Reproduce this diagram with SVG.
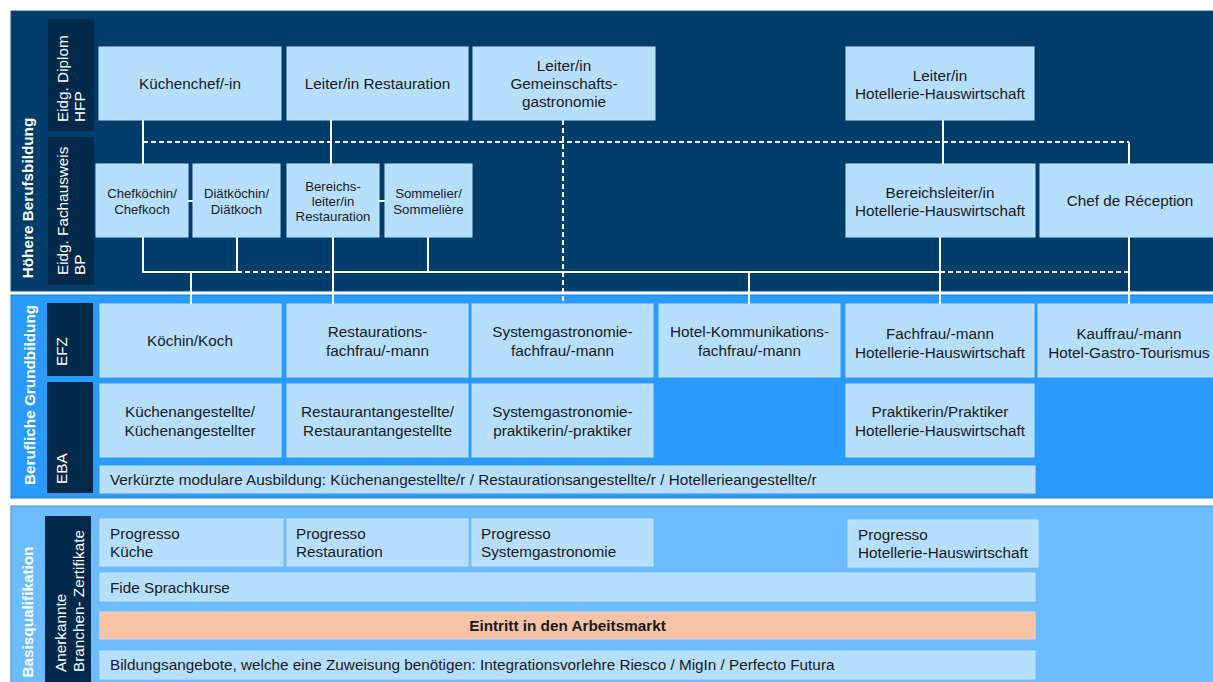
<svg xmlns="http://www.w3.org/2000/svg" width="1213" height="682" viewBox="0 0 1213 682">
<style>
text{font-family:"Liberation Sans",Arial,sans-serif;fill:#1a1a1a;font-size:15.3px}
.sm{font-size:13.2px}
.lbl{fill:#ffffff}
.sec{fill:#ffffff;font-weight:bold}
.box{fill:#b6dffe;stroke:#c4e5ff;stroke-width:1}
.tag{fill:#02284a}
.c{stroke:#ffffff;stroke-width:2;fill:none}
.d{stroke:#ffffff;stroke-width:2;fill:none;stroke-dasharray:5 3}
.m{text-anchor:middle}
</style>
<rect x="11" y="11" width="1210" height="280" fill="#003d6b" stroke="#17568c" stroke-width="1"/>
<rect x="11" y="295" width="1210" height="203" fill="#2a9bfd" stroke="#1c7fd2" stroke-width="1"/>
<rect x="11" y="506" width="1210" height="180" fill="#6cbdff" stroke="#3e8ccd" stroke-width="1"/>

<g id="section-labels">
<text class="sec m" transform="translate(33 198) rotate(-90)">Höhere Berufsbildung</text>
<text class="sec m" transform="translate(35 395) rotate(-90)">Berufliche Grundbildung</text>
<text class="sec m" transform="translate(33 612) rotate(-90)">Basisqualifikation</text>
</g>

<g id="tag-hfp"><rect class="tag" x="48" y="19" width="46" height="112"/>
<text class="lbl" transform="translate(68 122) rotate(-90)">Eidg. Diplom</text>
<text class="lbl" transform="translate(85 122) rotate(-90)">HFP</text></g>
<g id="tag-bp"><rect class="tag" x="48" y="137" width="46" height="148"/>
<text class="lbl" transform="translate(68 275) rotate(-90)">Eidg. Fachausweis</text>
<text class="lbl" transform="translate(85 275) rotate(-90)">BP</text></g>
<g id="tag-efz"><rect class="tag" x="47" y="303" width="46" height="73"/>
<text class="lbl" transform="translate(67 366) rotate(-90)">EFZ</text></g>
<g id="tag-eba"><rect class="tag" x="47" y="382" width="46" height="111"/>
<text class="lbl" transform="translate(67 484) rotate(-90)">EBA</text></g>
<g id="tag-zert"><rect class="tag" x="45" y="516" width="46" height="170"/>
<text class="lbl" transform="translate(66 672) rotate(-90)">Anerkannte</text>
<text class="lbl" transform="translate(84 672) rotate(-90)">Branchen- Zertifikate</text></g>

<g id="connectors">
<path class="c" d="M143 120V164M331 120V164M943 120V164M1129 142V164"/>
<path class="d" d="M143 142H1129M563 120V304M237 272H333M940 272H1129"/>
<path class="c" d="M143 237V272H237V237M191 272V304M333 237V304M333 272H940M428 237V272M940 237V304M1129 237V304M749 272V304M188 201H193M379 201H385"/>
</g>

<g id="kuechenchef"><rect class="box" x="99" y="47" width="182" height="73"/><text class="m" x="190" y="89">Küchenchef/-in</text></g>
<g id="leiter-restauration"><rect class="box" x="287" y="47" width="181" height="73"/><text class="m" x="377.5" y="89">Leiter/in Restauration</text></g>
<g id="leiter-gemeinschaft"><rect class="box" x="473" y="47" width="182" height="73"/><text class="m" x="564" y="71">Leiter/in</text><text class="m" x="564" y="89">Gemeinschafts-</text><text class="m" x="564" y="107">gastronomie</text></g>
<g id="leiter-hotellerie"><rect class="box" x="846" y="47" width="188" height="73"/><text class="m" x="940" y="81">Leiter/in</text><text class="m" x="940" y="99">Hotellerie-Hauswirtschaft</text></g>

<g id="chefkoechin"><rect class="box" x="96" y="164" width="92" height="73"/><text class="sm m" x="142" y="197.5">Chefköchin/</text><text class="sm m" x="142" y="213.5">Chefkoch</text></g>
<g id="diaetkoechin"><rect class="box" x="193" y="164" width="87" height="73"/><text class="sm m" x="236.5" y="197.5">Diätköchin/</text><text class="sm m" x="236.5" y="213.5">Diätkoch</text></g>
<g id="bereichsleiter-restauration"><rect class="box" x="287" y="164" width="92" height="73"/><text class="sm m" x="333" y="190.5">Bereichs-</text><text class="sm m" x="333" y="205.5">leiter/in</text><text class="sm m" x="333" y="221">Restauration</text></g>
<g id="sommelier"><rect class="box" x="385" y="164" width="87" height="73"/><text class="sm m" x="428.5" y="197.5">Sommelier/</text><text class="sm m" x="428.5" y="213.5">Sommelière</text></g>
<g id="bereichsleiter-hotellerie"><rect class="box" x="846" y="164" width="189" height="73"/><text class="m" x="940" y="197.5">Bereichsleiter/in</text><text class="m" x="940" y="215.5">Hotellerie-Hauswirtschaft</text></g>
<g id="chef-reception"><rect class="box" x="1040" y="164" width="180" height="73"/><text class="m" x="1130" y="206">Chef de Réception</text></g>

<g id="koch"><rect class="box" x="100" y="304" width="181" height="73"/><text class="m" x="190" y="346">Köchin/Koch</text></g>
<g id="restaurationsfachfrau"><rect class="box" x="287" y="304" width="181" height="73"/><text class="m" x="377.5" y="337">Restaurations-</text><text class="m" x="377.5" y="356">fachfrau/-mann</text></g>
<g id="systemgastronomiefachfrau"><rect class="box" x="472" y="304" width="181" height="73"/><text class="m" x="562.5" y="337">Systemgastronomie-</text><text class="m" x="562.5" y="356">fachfrau/-mann</text></g>
<g id="hotelkommunikation"><rect class="box" x="659" y="304" width="181" height="73"/><text class="m" x="749.5" y="337">Hotel-Kommunikations-</text><text class="m" x="749.5" y="356">fachfrau/-mann</text></g>
<g id="fachfrau-hotellerie"><rect class="box" x="846" y="304" width="188" height="73"/><text class="m" x="940" y="338.5">Fachfrau/-mann</text><text class="m" x="940" y="357.5">Hotellerie-Hauswirtschaft</text></g>
<g id="kauffrau"><rect class="box" x="1038" y="304" width="182" height="73"/><text class="m" x="1129" y="338.5">Kauffrau/-mann</text><text class="m" x="1129" y="357.5">Hotel-Gastro-Tourismus</text></g>

<g id="kuechenangestellte"><rect class="box" x="100" y="384" width="181" height="73"/><text class="m" x="190" y="417">Küchenangestellte/</text><text class="m" x="190" y="435.5">Küchenangestellter</text></g>
<g id="restaurantangestellte"><rect class="box" x="287" y="384" width="181" height="73"/><text class="m" x="377.5" y="417">Restaurantangestellte/</text><text class="m" x="377.5" y="435.5">Restaurantangestellte</text></g>
<g id="systemgastronomiepraktiker"><rect class="box" x="472" y="384" width="181" height="73"/><text class="m" x="562.5" y="417">Systemgastronomie-</text><text class="m" x="562.5" y="435.5">praktikerin/-praktiker</text></g>
<g id="praktiker-hotellerie"><rect class="box" x="846" y="384" width="188" height="73"/><text class="m" x="940" y="417">Praktikerin/Praktiker</text><text class="m" x="940" y="435.5">Hotellerie-Hauswirtschaft</text></g>
<g id="verkuerzte"><rect class="box" x="100" y="466" width="935" height="27"/><text x="110" y="485">Verkürzte modulare Ausbildung: Küchenangestellte/r / Restaurationsangestellte/r / Hotellerieangestellte/r</text></g>

<g id="progresso-kueche"><rect class="box" x="100" y="519" width="183" height="47"/><text x="110" y="538.5">Progresso</text><text x="110" y="557">Küche</text></g>
<g id="progresso-restauration"><rect class="box" x="287" y="519" width="181" height="47"/><text x="296" y="538.5">Progresso</text><text x="296" y="557">Restauration</text></g>
<g id="progresso-system"><rect class="box" x="472" y="519" width="181" height="47"/><text x="481" y="538.5">Progresso</text><text x="481" y="557">Systemgastronomie</text></g>
<g id="progresso-hotellerie"><rect class="box" x="848" y="520" width="190" height="47"/><text x="858" y="539.5">Progresso</text><text x="858" y="558">Hotellerie-Hauswirtschaft</text></g>
<g id="fide"><rect class="box" x="100" y="573" width="935" height="28"/><text x="110" y="593">Fide Sprachkurse</text></g>
<g id="eintritt"><rect x="100" y="612" width="935" height="27" fill="#f6c3a8" stroke="#f9d2bd" stroke-width="1"/><text class="m" x="567.5" y="631" font-weight="bold">Eintritt in den Arbeitsmarkt</text></g>
<g id="bildungsangebote"><rect class="box" x="100" y="651" width="935" height="28"/><text x="110" y="670">Bildungsangebote, welche eine Zuweisung benötigen: Integrationsvorlehre Riesco / MigIn / Perfecto Futura</text></g>
</svg>
